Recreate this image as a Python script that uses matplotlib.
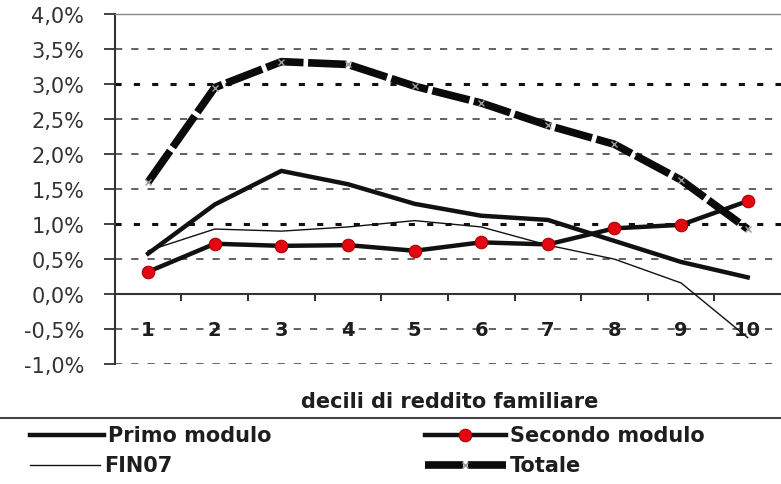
import numpy as np
import matplotlib.pyplot as plt
from matplotlib.lines import Line2D

# data (percent)
decili = np.arange(1, 11)
tick_labels = ["1", "2", "3", "4", "5", "6", "7", "8", "9", "10"]
primo = [0.58, 1.28, 1.76, 1.57, 1.29, 1.12, 1.06, 0.76, 0.46, 0.24]
secondo = [0.32, 0.72, 0.69, 0.70, 0.62, 0.74, 0.71, 0.94, 0.99, 1.33]
fin07 = [0.62, 0.93, 0.90, 0.96, 1.05, 0.96, 0.70, 0.50, 0.16, -0.62]
totale = [1.60, 2.95, 3.32, 3.28, 2.97, 2.73, 2.41, 2.14, 1.63, 0.93]

txt = "#1e1e1e"
plt.rcParams['font.family'] = ['DejaVu Sans']

fig = plt.figure(figsize=(7.81, 4.85), dpi=100)
ax = fig.add_axes([0.147, 0.247, 0.853, 0.722])

ax.set_xlim(0.5, 10.5)
ax.set_ylim(-1.0, 4.0)

# gridlines
for v in [-1.0, -0.5, 0.5, 1.5, 2.0, 2.5, 3.5]:
    ax.axhline(v, color="#555555", lw=1.3, dashes=(4, 5), zorder=1)
for v in [1.0, 3.0]:
    ax.axhline(v, color="#111111", lw=2.2, dashes=(2, 4), zorder=1)
ax.axhline(0, color="#333333", lw=1.5, zorder=2)

# tick marks on the zero axis (between categories)
for xb in np.arange(1.5, 10.5, 1.0):
    ax.plot([xb, xb], [0, -0.09], color="#333333", lw=1.5, zorder=2, clip_on=False)

# series
ax.plot(decili, fin07, color="#111111", lw=1.0, zorder=3)
ax.plot(decili, primo, color="#111111", lw=3.2, zorder=4)
ax.plot(decili, secondo, color="#111111", lw=3.2, marker="o", ms=9,
        mfc="#e30613", mec="#b00000", mew=0.8, zorder=5)
ax.plot(decili, totale, color="#0a0a0a", lw=5.5, dashes=(5, 0.6), zorder=6,
        solid_capstyle="butt", dash_capstyle="butt")
ax.plot(decili, totale, ls="none", marker="x", ms=5, mew=1.0, color="#9a9a9a", zorder=7)

# x labels at the -0.5 level
for x, lab in zip(decili, tick_labels):
    ax.text(x, -0.5, lab, ha="center", va="center", fontsize=14,
            fontweight="bold", color=txt, zorder=8)

ax.set_xticks([])
ax.set_yticks(np.arange(-1.0, 4.01, 0.5))
ax.set_yticklabels([f"{v:.1f}%".replace(".", ",") for v in np.arange(-1.0, 4.01, 0.5)],
                   fontsize=15, color="#333333")
ax.tick_params(axis="y", length=8, width=1.3, color="#333333", pad=14)

for s in ["right", "bottom"]:
    ax.spines[s].set_visible(False)
ax.spines["left"].set_color("#333333")
ax.spines["left"].set_linewidth(1.5)
ax.spines["top"].set_color("#888888")
ax.spines["top"].set_linewidth(1.0)

fig.text(0.576, 1 - 402 / 485, "decili di reddito familiare", ha="center", va="center",
         fontsize=15, fontweight="bold", color=txt)

# separator above legend
fig.add_artist(Line2D([0, 1], [1 - 419 / 485, 1 - 419 / 485], color="#444444", lw=1.5))

# legend drawn manually
def px(x, y):
    return x / 781, 1 - y / 485

def entry(x0, x1, y, label, **kw):
    (a, b), (c, _) = px(x0, y), px(x1, y)
    fig.add_artist(Line2D([a, c], [b, b], **kw))
    tx, ty = px(x1 + 4, y)
    fig.text(tx, ty, label, ha="left", va="center", fontsize=15,
             fontweight="bold", color=txt)

entry(30, 104, 436, "Primo modulo", color="#111111", lw=3.2)
entry(30, 100, 466, "FIN07", color="#111111", lw=1.0)
entry(425, 506, 436, "Secondo modulo", color="#111111", lw=3.2)
mx, my = px(465, 436)
fig.add_artist(Line2D([mx], [my], marker="o", ms=9, mfc="#e30613", mec="#b00000", mew=0.8))
entry(425, 506, 466, "Totale", color="#0a0a0a", lw=5.5, dashes=(5, 0.6))
tx, ty = px(465, 466)
fig.add_artist(Line2D([tx], [ty], marker="x", ms=5, mew=1.0, color="#9a9a9a"))

fig.savefig("out.png", dpi=100)
